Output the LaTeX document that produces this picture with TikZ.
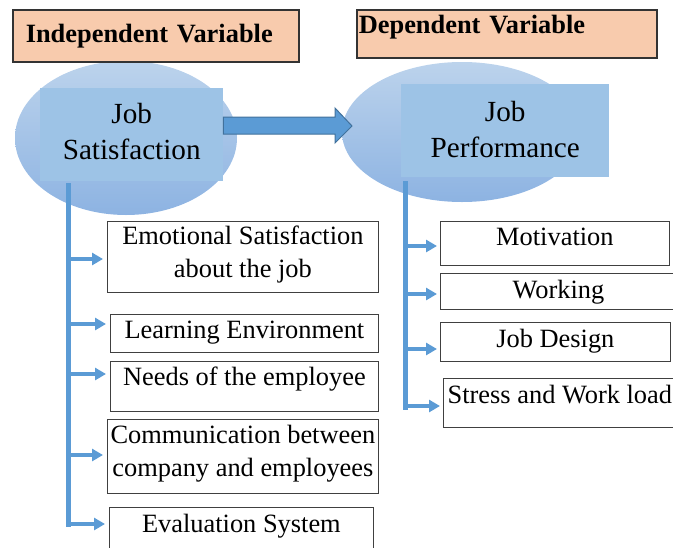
\documentclass[tikz,border=0pt]{standalone}
\usepackage{fontspec}
\setmainfont{Liberation Serif}
\usetikzlibrary{shapes.geometric,arrows.meta}

\definecolor{peach}{HTML}{F8CBAD}
\definecolor{skyfill}{HTML}{9DC3E6}
\definecolor{linkblue}{HTML}{5B9BD5}
\definecolor{arrowedge}{HTML}{41719C}
\definecolor{ovaltop}{HTML}{BCD3EC}
\definecolor{ovalbot}{HTML}{8DB3E2}

\begin{document}
\begin{tikzpicture}[x=1pt,y=-1pt,
    header/.style={draw=black!80,line width=1.6pt,fill=peach,align=left,
      font=\fontsize{26.4}{30}\selectfont\bfseries,inner ysep=0pt,anchor=north west},
    oval/.style={ellipse,top color=ovaltop,bottom color=ovalbot,inner sep=0pt},
    core/.style={fill=skyfill,align=center,inner sep=0pt,anchor=north west,
      font=\fontsize{29.2}{36}\selectfont},
    item/.style={draw=black!75,line width=0.8pt,fill=white,align=center,inner sep=0pt,
      anchor=north west,font=\fontsize{26.4}{33}\selectfont},
    trunk/.style={linkblue,line width=5pt},
    branch/.style={linkblue,line width=3.5pt,-{Triangle[length=11pt,width=12pt]}}]
  \useasboundingbox (0,0) rectangle (673,547);
  \clip (0,0) rectangle (673,547);

  % the two variables
  \node[oval,minimum width=222,minimum height=154] (ovind) at (126,138) {};
  \node[oval,minimum width=240,minimum height=140] (ovdep) at (462,132) {};
  % text height counts down to the last line's baseline
  \node[core,minimum width=183,text height=71,text depth=22] (js) at (40,88) {Job\\Satisfaction};
  \node[core,minimum width=208,text height=73,text depth=20] (jp) at (401,84) {Job\\Performance};

  % block arrow between them
  \filldraw[fill=linkblue,draw=arrowedge,line width=1pt]
    (js.east |- 0,117) -- (335,117) -- (335,108) -- (352,126)
    -- (335,143) -- (335,134) -- (js.east |- 0,134) -- cycle;

  \node[header,text width=260,inner xsep=13,text height=33,text depth=19] (hind) at (12,9) {Independent Variable};
  \node[header,text width=296,inner xsep=2,text height=24,text depth=24] (hdep) at (356,9) {Dependent Variable};

  % factors of job satisfaction
  \node[item,minimum width=271,text height=56,text depth=15] (e1) at (107,221) {Emotional Satisfaction\\about the job};
  \node[item,minimum width=268,text height=24,text depth=14] (e2) at (110,314) {Learning Environment};
  \node[item,minimum width=268,text height=24,text depth=26] (e3) at (110,361) {Needs of the employee};
  \node[item,minimum width=271,text height=57,text depth=17] (e4) at (107,419) {Communication between\\company and employees};
  \node[item,minimum width=264,text height=25,text depth=40] (e5) at (109,507) {Evaluation System};

  % factors of job performance
  \node[item,minimum width=229,text height=24,text depth=20] (p1) at (440,221) {Motivation};
  \node[item,minimum width=236,text height=25,text depth=11] (p2) at (440,273) {Working};
  \node[item,minimum width=230,text height=25,text depth=14] (p3) at (440,322) {Job Design};
  \node[item,minimum width=233,text height=25,text depth=24] (p4) at (443,378) {Stress and Work load};

  \coordinate (ltop) at (68,183);
  \coordinate (lbot) at (68,527);
  \coordinate (rtop) at (405,181);
  \coordinate (rbot) at (405,410);
  \draw[trunk] (ltop) -- (lbot);
  \draw[trunk] (rtop) -- (rbot);
  \foreach \b/\y in {e1/259,e2/324,e3/374,e4/455,e5/524}
    \draw[branch,shorten >=4pt] (ltop |- 0,\y) -- (\b.west |- 0,\y);
  \foreach \b/\y in {p1/246,p2/294,p3/349,p4/406}
    \draw[branch,shorten >=3pt] (rtop |- 0,\y) -- (\b.west |- 0,\y);
\end{tikzpicture}
\end{document}
